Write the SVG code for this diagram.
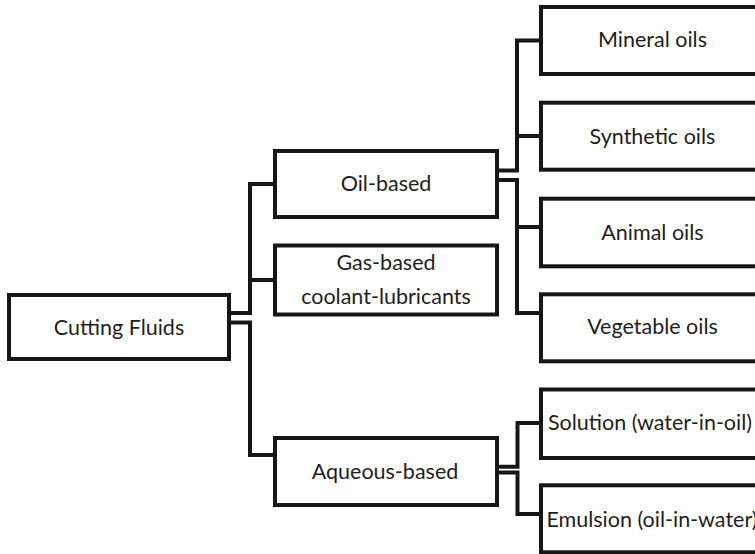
<svg xmlns="http://www.w3.org/2000/svg" width="755" height="554" viewBox="0 0 755 554">
<style>
.box{fill:#fff;stroke:#161616;stroke-width:4}
.lbl{font-family:Lato,"Liberation Sans",sans-serif;font-size:21.5px;fill:#1e1e1e;text-anchor:middle}
.con{fill:none;stroke:#161616;stroke-width:4;stroke-linejoin:miter}
</style>
<rect width="755" height="554" fill="#fff"/>
<g id="connectors">
<path class="con" d="M229,313 H250 V184 H275"/>
<path class="con" d="M250,280 H275"/>
<path class="con" d="M229,322.5 H250 V455 H275"/>
<path class="con" d="M497,170.5 H517 V40.5 H541"/>
<path class="con" d="M517,136 H541"/>
<path class="con" d="M497,180 H517 V313 H541"/>
<path class="con" d="M517,227 H541"/>
<path class="con" d="M497,466.7 H517.5 V423 H541"/>
<path class="con" d="M497,472.5 H517.5 V514 H541"/>
</g>
<g id="cutting-fluids"><rect class="box" x="9" y="295" width="220" height="64"/><text class="lbl" x="119" y="334.5">Cutting Fluids</text></g>
<g id="oil-based"><rect class="box" x="275" y="151" width="222" height="66"/><text class="lbl" x="386" y="191">Oil-based</text></g>
<g id="gas-based"><rect class="box" x="275" y="245.5" width="222" height="69"/><text class="lbl" x="386" y="269.5">Gas-based</text><text class="lbl" x="386" y="303.5">coolant-lubricants</text></g>
<g id="aqueous-based"><rect class="box" x="275" y="438" width="222" height="67"/><text class="lbl" x="385" y="478.5">Aqueous-based</text></g>
<g id="mineral-oils"><rect class="box" x="541" y="7" width="222" height="67"/><text class="lbl" x="652.5" y="47">Mineral oils</text></g>
<g id="synthetic-oils"><rect class="box" x="541" y="102.7" width="222" height="67"/><text class="lbl" x="652.5" y="143.5">Synthetic oils</text></g>
<g id="animal-oils"><rect class="box" x="541" y="198.7" width="222" height="67.6"/><text class="lbl" x="652.5" y="239.5">Animal oils</text></g>
<g id="vegetable-oils"><rect class="box" x="541" y="294.3" width="222" height="67"/><text class="lbl" x="652.5" y="334">Vegetable oils</text></g>
<g id="solution"><rect class="box" x="541" y="389.5" width="222" height="68.5"/><text class="lbl" x="650" y="430">Solution (water-in-oil)</text></g>
<g id="emulsion"><rect class="box" x="541" y="485.3" width="222" height="67"/><text class="lbl" x="652" y="526.7">Emulsion (oil-in-water)</text></g>
</svg>
